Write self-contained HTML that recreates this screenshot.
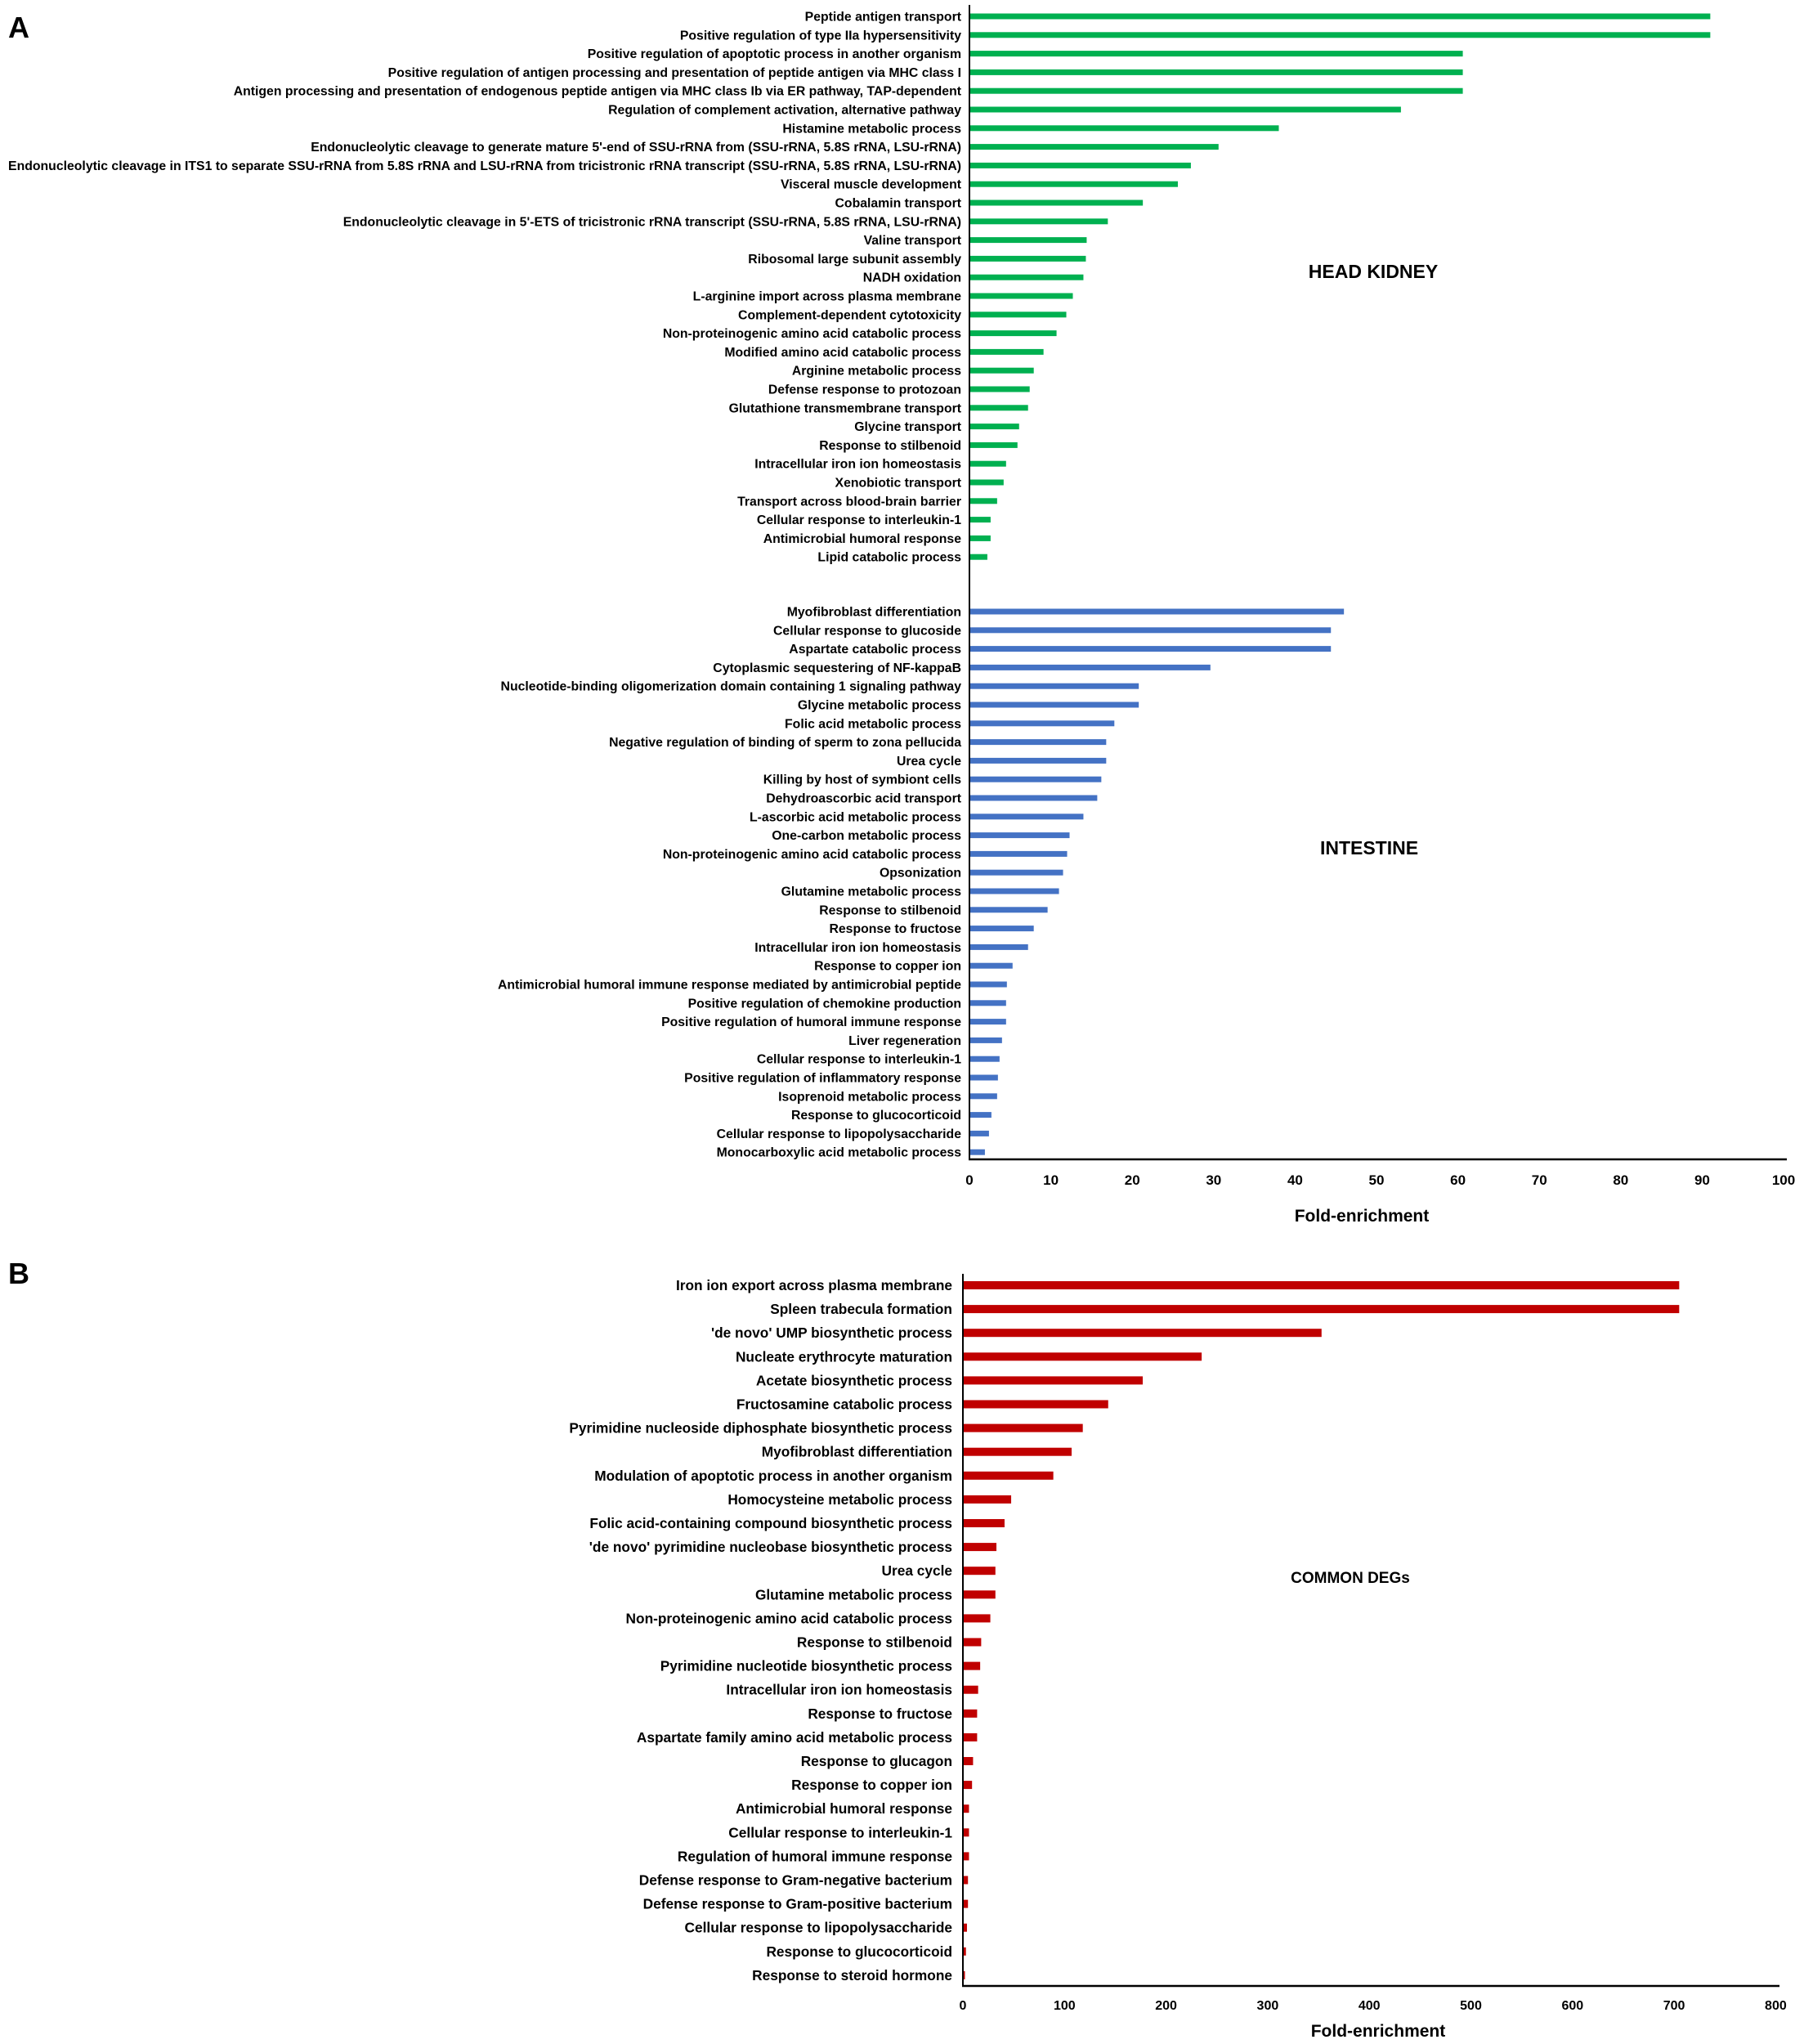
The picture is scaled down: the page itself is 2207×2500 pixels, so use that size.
<!DOCTYPE html>
<html><head><meta charset="utf-8"><style>html,body{margin:0;padding:0;background:#fff}svg{display:block}text{font-family:"Liberation Sans",Arial,sans-serif;font-weight:bold;fill:#000}</style></head>
<body>
<svg id="s" width="2207" height="2500" xmlns="http://www.w3.org/2000/svg"></svg>
<script>
const s=document.getElementById('s');const NS='http://www.w3.org/2000/svg';
function el(t,a,txt){const e=document.createElementNS(NS,t);for(const k in a)e.setAttribute(k,a[k]);if(txt!==undefined)e.textContent=txt;s.appendChild(e);return e;}
const hk=[["Peptide antigen transport",91],["Positive regulation of type IIa hypersensitivity",91],["Positive regulation of apoptotic process in another organism",60.6],["Positive regulation of antigen processing and presentation of peptide antigen via MHC class I",60.6],["Antigen processing and presentation of endogenous peptide antigen via MHC class Ib via ER pathway, TAP-dependent",60.6],["Regulation of complement activation, alternative pathway",53],["Histamine metabolic process",38],["Endonucleolytic cleavage to generate mature 5'-end of SSU-rRNA from (SSU-rRNA, 5.8S rRNA, LSU-rRNA)",30.6],["Endonucleolytic cleavage in ITS1 to separate SSU-rRNA from 5.8S rRNA and LSU-rRNA from tricistronic rRNA transcript (SSU-rRNA, 5.8S rRNA, LSU-rRNA)",27.2],["Visceral muscle development",25.6],["Cobalamin transport",21.3],["Endonucleolytic cleavage in 5'-ETS of tricistronic rRNA transcript (SSU-rRNA, 5.8S rRNA, LSU-rRNA)",17],["Valine transport",14.4],["Ribosomal large subunit assembly",14.3],["NADH oxidation",14],["L-arginine import across plasma membrane",12.7],["Complement-dependent cytotoxicity",11.9],["Non-proteinogenic amino acid catabolic process",10.7],["Modified amino acid catabolic process",9.1],["Arginine metabolic process",7.9],["Defense response to protozoan",7.4],["Glutathione transmembrane transport",7.2],["Glycine transport",6.1],["Response to stilbenoid",5.9],["Intracellular iron ion homeostasis",4.5],["Xenobiotic transport",4.2],["Transport across blood-brain barrier",3.4],["Cellular response to interleukin-1",2.6],["Antimicrobial humoral response",2.6],["Lipid catabolic process",2.2]];
const it=[["Myofibroblast differentiation",46],["Cellular response to glucoside",44.4],["Aspartate catabolic process",44.4],["Cytoplasmic sequestering of NF-kappaB",29.6],["Nucleotide-binding oligomerization domain containing 1 signaling pathway",20.8],["Glycine metabolic process",20.8],["Folic acid metabolic process",17.8],["Negative regulation of binding of sperm to zona pellucida",16.8],["Urea cycle",16.8],["Killing by host of symbiont cells",16.2],["Dehydroascorbic acid transport",15.7],["L-ascorbic acid metabolic process",14],["One-carbon metabolic process",12.3],["Non-proteinogenic amino acid catabolic process",12],["Opsonization",11.5],["Glutamine metabolic process",11],["Response to stilbenoid",9.6],["Response to fructose",7.9],["Intracellular iron ion homeostasis",7.2],["Response to copper ion",5.3],["Antimicrobial humoral immune response mediated by antimicrobial peptide",4.6],["Positive regulation of chemokine production",4.5],["Positive regulation of humoral immune response",4.5],["Liver regeneration",4],["Cellular response to interleukin-1",3.7],["Positive regulation of inflammatory response",3.5],["Isoprenoid metabolic process",3.4],["Response to glucocorticoid",2.7],["Cellular response to lipopolysaccharide",2.4],["Monocarboxylic acid metabolic process",1.9]];
const cm=[["Iron ion export across plasma membrane",705],["Spleen trabecula formation",705],["'de novo' UMP biosynthetic process",353],["Nucleate erythrocyte maturation",235],["Acetate biosynthetic process",177],["Fructosamine catabolic process",143],["Pyrimidine nucleoside diphosphate biosynthetic process",118],["Myofibroblast differentiation",107],["Modulation of apoptotic process in another organism",89],["Homocysteine metabolic process",47.5],["Folic acid-containing compound biosynthetic process",41],["'de novo' pyrimidine nucleobase biosynthetic process",33],["Urea cycle",32],["Glutamine metabolic process",32],["Non-proteinogenic amino acid catabolic process",27],["Response to stilbenoid",18],["Pyrimidine nucleotide biosynthetic process",17],["Intracellular iron ion homeostasis",15],["Response to fructose",14],["Aspartate family amino acid metabolic process",14],["Response to glucagon",10],["Response to copper ion",9],["Antimicrobial humoral response",6],["Cellular response to interleukin-1",6],["Regulation of humoral immune response",6],["Defense response to Gram-negative bacterium",5],["Defense response to Gram-positive bacterium",5],["Cellular response to lipopolysaccharide",4],["Response to glucocorticoid",3],["Response to steroid hormone",2]];
const ax=1186, sc=9.96;
hk.forEach((d,i)=>{const y=20+i*22.8;el('rect',{x:ax,y:y-3.5,width:d[1]*sc,height:7,fill:'#00b050'});el('text',{x:1176,y:y+5.5,'font-size':15.8,'text-anchor':'end'},d[0]);});
it.forEach((d,i)=>{const y=748+i*22.8;el('rect',{x:ax,y:y-3.5,width:d[1]*sc,height:7,fill:'#4472c4'});el('text',{x:1176,y:y+5.5,'font-size':15.8,'text-anchor':'end'},d[0]);});
el('line',{x1:ax,y1:6,x2:ax,y2:1419,stroke:'#000','stroke-width':2});
el('line',{x1:ax-1,y1:1418,x2:2186,y2:1418,stroke:'#000','stroke-width':2.5});
for(let k=0;k<=10;k++)el('text',{x:ax+k*10*sc,y:1449,'font-size':17,'text-anchor':'middle'},String(k*10));
el('text',{x:1666,y:1494,'font-size':21,'text-anchor':'middle'},'Fold-enrichment');
el('text',{x:1680,y:340,'font-size':23,'text-anchor':'middle'},'HEAD KIDNEY');
el('text',{x:1675,y:1045,'font-size':23,'text-anchor':'middle'},'INTESTINE');
el('text',{x:10,y:46,'font-size':36},'A');
el('text',{x:10,y:1570,'font-size':36},'B');
const bx=1178, bs=1.243;
cm.forEach((d,i)=>{const y=1572+i*29.1;el('rect',{x:bx,y:y-5,width:d[1]*bs,height:10,fill:'#c00000'});el('text',{x:1165,y:y+6,'font-size':17.3,'text-anchor':'end'},d[0]);});
el('line',{x1:bx,y1:1558,x2:bx,y2:2430,stroke:'#000','stroke-width':2});
el('line',{x1:bx-1,y1:2429,x2:2177,y2:2429,stroke:'#000','stroke-width':2.5});
for(let k=0;k<=8;k++)el('text',{x:bx+k*100*bs,y:2458,'font-size':16,'text-anchor':'middle'},String(k*100));
el('text',{x:1686,y:2491,'font-size':21,'text-anchor':'middle'},'Fold-enrichment');
el('text',{x:1652,y:1936,'font-size':19,'text-anchor':'middle'},'COMMON DEGs');
</script>
</body></html>
